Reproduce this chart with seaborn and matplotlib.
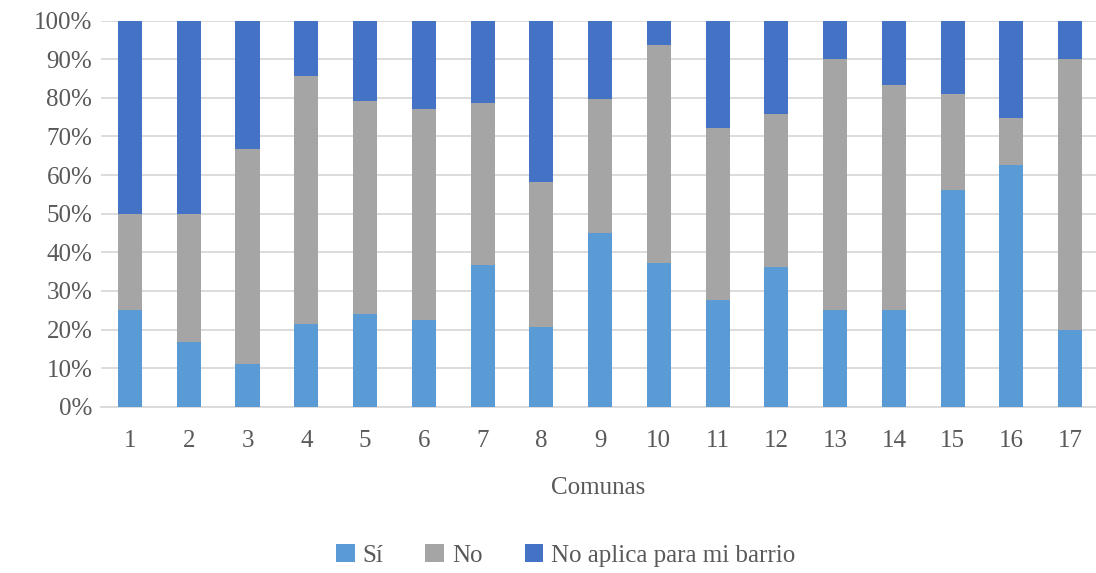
import numpy as np
import pandas as pd
import matplotlib
matplotlib.use("Agg")
import matplotlib.pyplot as plt
import seaborn as sns
from matplotlib.patches import Patch

comunas = [str(i) for i in range(1, 18)]
si = [25.0, 16.7, 11.1, 21.4, 24.1, 22.6, 36.6, 20.7, 44.9, 37.2, 27.6, 36.3, 25.0, 25.0, 56.1, 62.6, 20.0]
no = [25.0, 33.3, 55.6, 64.3, 55.2, 54.5, 42.2, 37.4, 34.8, 56.5, 44.5, 39.4, 65.0, 58.3, 25.0, 12.2, 70.0]
na = [50.0, 50.0, 33.3, 14.3, 20.7, 22.9, 21.2, 41.9, 20.3, 6.3, 27.9, 24.3, 10.0, 16.7, 18.9, 25.2, 10.0]
series_names = ["Sí", "No", "No aplica para mi barrio"]
colors = ["#5B9BD5", "#A5A5A5", "#4472C4"]
y_ticks = [0, 10, 20, 30, 40, 50, 60, 70, 80, 90, 100]

sns.set_theme(style="white")
plt.rcParams['font.family'] = ['Liberation Serif', 'DejaVu Serif']

df = pd.DataFrame({"Comuna": comunas, "si": si, "no": no, "na": na})
df["c1"] = df["si"]
df["c2"] = df["si"] + df["no"]
df["c3"] = df["c2"] + df["na"]

fig = plt.figure(figsize=(10.96, 5.73), dpi=100)
ax = fig.add_axes([0.0918, 0.29, 0.9082, 0.674])

for col, c in zip(["c3", "c2", "c1"], [colors[2], colors[1], colors[0]]):
    sns.barplot(data=df, x="Comuna", y=col, color=c, width=0.41, ax=ax,
                saturation=1, linewidth=0, zorder=3)

ax.set_ylim(0, 100)
ax.set_xlim(-0.5, 16.44)
ax.set_yticks(y_ticks)
ax.set_yticklabels([f"{t}%" for t in y_ticks])
ax.yaxis.grid(True, color="#D9D9D9", linewidth=1.3, zorder=0)
ax.set_axisbelow(True)
for s in ["left", "right", "top"]:
    ax.spines[s].set_visible(False)
ax.spines["bottom"].set_color("#D9D9D9")
ax.spines["bottom"].set_linewidth(1.3)
ax.tick_params(axis="both", length=0, labelsize=18, colors="#595959")
ax.tick_params(axis="x", pad=17)
ax.tick_params(axis="y", pad=6)
ax.set_ylabel("")
ax.set_xlabel("Comunas", fontsize=18, color="#595959", labelpad=18)

handles = [Patch(facecolor=c, edgecolor="none") for c in colors]
fig.legend(handles, series_names, loc="lower center", bbox_to_anchor=(0.516, -0.028),
           ncol=3, frameon=False, fontsize=18, handlelength=0.75, handleheight=0.75,
           handletextpad=0.3, columnspacing=1.7, labelcolor="#595959")

fig.savefig("out.png", dpi=100)
